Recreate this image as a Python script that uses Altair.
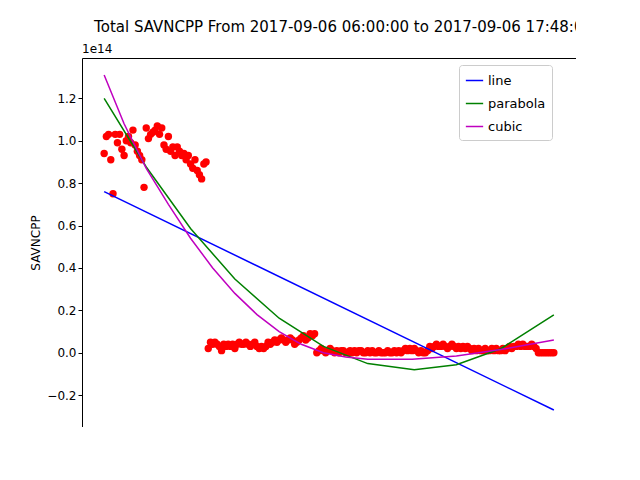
import altair as alt
import pandas as pd

# scatter values (units of 1e14), timepoints 1..204
seg1 = [0.94, 1.02, 1.03, 0.91, 0.75, 1.03, 0.99, 1.03, 0.96, 0.93, 1.00, 1.02, 0.99, 1.05,
        0.98, 0.95, 0.93, 0.91, 0.78, 1.06, 1.01, 1.03, 1.04, 1.05, 1.07, 1.03, 1.06, 0.98,
        0.96, 1.02, 0.95, 0.97, 0.93, 0.97, 0.95, 0.93, 0.94, 0.91, 0.93, 0.89, 0.87, 0.91,
        0.86, 0.84, 0.82, 0.89, 0.90]
seg2 = [0.02, 0.05, 0.04, 0.05, 0.04, 0.03, 0.01, 0.04, 0.03, 0.04, 0.03, 0.04, 0.02, 0.04,
        0.05, 0.04, 0.04, 0.05, 0.04, 0.03, 0.04, 0.05, 0.03, 0.02, 0.03, 0.02, 0.03, 0.05,
        0.04, 0.05, 0.06, 0.05, 0.06, 0.07, 0.06, 0.05, 0.06, 0.07, 0.06, 0.04, 0.05, 0.06,
        0.07, 0.08, 0.06, 0.07, 0.09, 0.08, 0.09]
seg3 = [0.00, 0.01, 0.02, 0.01, 0.00, 0.01, 0.02, 0.01, 0.00, 0.01, 0.00, 0.01, 0.01, 0.00,
        0.00, 0.01, 0.00, 0.01, 0.00, 0.01, 0.01, 0.00, 0.00, 0.01, 0.00, 0.01, 0.00, 0.00,
        0.01, 0.00, 0.00, 0.00, 0.01, 0.00, 0.00, 0.01, 0.00, 0.01, 0.00, 0.01, 0.02, 0.01,
        0.02, 0.01, 0.02, 0.01, 0.00, 0.01, 0.00, 0.00, 0.01]
seg4 = [0.03, 0.02, 0.03, 0.04, 0.03, 0.03, 0.04, 0.03, 0.02, 0.03, 0.04, 0.03, 0.02, 0.03,
        0.02, 0.03, 0.02, 0.03, 0.02, 0.01, 0.02, 0.01, 0.02, 0.01, 0.01, 0.02, 0.01, 0.01,
        0.02, 0.01, 0.02, 0.01, 0.01, 0.02, 0.01, 0.02, 0.03, 0.02, 0.03, 0.03, 0.04, 0.03,
        0.04, 0.03, 0.03, 0.03, 0.04, 0.03, 0.02, 0.00, 0.00]
seg5 = [0.00, 0.00, 0.00, 0.00, 0.00, 0.00]
values = seg1 + seg2 + seg3 + seg4 + seg5
timepoints = list(range(1, len(values) + 1))

# fitted curves
line_t = [1, 204]
line_v = [0.76, -0.27]
para_t = [1, 20, 40, 60, 80, 100, 120, 141, 160, 180, 204]
para_v = [1.20, 0.876, 0.586, 0.348, 0.163, 0.030, -0.051, -0.08, -0.056, 0.019, 0.179]
cubic_t = [1, 10, 20, 30, 40, 50, 60, 70, 80, 90, 100, 110, 120, 140, 160, 180, 204]
cubic_v = [1.31, 1.08, 0.87, 0.70, 0.54, 0.40, 0.28, 0.18, 0.10, 0.04, 0.0, -0.02, -0.03,
           -0.03, -0.015, 0.015, 0.06]

pts = pd.DataFrame({"t": timepoints, "v": values})
fits = pd.concat([
    pd.DataFrame({"t": line_t, "v": line_v, "fit": "line"}),
    pd.DataFrame({"t": para_t, "v": para_v, "fit": "parabola"}),
    pd.DataFrame({"t": cubic_t, "v": cubic_v, "fit": "cubic"}),
])

xs = alt.Scale(domain=[-9, 214], nice=False, zero=False)
ys = alt.Scale(domain=[-0.35, 1.39], nice=False, zero=False)
ax_x = alt.X("t:Q", scale=xs, title="Timepoint",
             axis=alt.Axis(values=[0, 25, 50, 75, 100, 125, 150, 175, 200], grid=False))
ax_y = alt.Y("v:Q", scale=ys, title="SAVNCPP",
             axis=alt.Axis(values=[-0.2, 0, 0.2, 0.4, 0.6, 0.8, 1.0, 1.2], format=".1f", grid=False))

dots = alt.Chart(pts).mark_circle(size=55, color="red", opacity=1).encode(x=ax_x, y=ax_y)

curves = alt.Chart(fits).mark_line(strokeWidth=1.5).encode(
    x=ax_x, y=ax_y, detail="fit:N",
    color=alt.Color("fit:N",
                    scale=alt.Scale(domain=["line", "parabola", "cubic"],
                                    range=["#0000ff", "#008000", "#bf00bf"]),
                    legend=alt.Legend(title=None, orient="none", legendX=377, legendY=7,
                                      symbolType="stroke", symbolStrokeWidth=1.5,
                                      strokeColor="#cccccc", padding=6, cornerRadius=3,
                                      fillColor="white", labelFontSize=13, symbolSize=300,
                                      rowPadding=6)),
    order=alt.Order("t:Q"),
)

offset = alt.Chart(pd.DataFrame({"s": ["1e14"]})).mark_text(
    align="left", baseline="bottom", fontSize=12, dy=-2).encode(
    x=alt.value(0), y=alt.value(0), text="s:N")

chart = alt.layer(dots, curves, offset).properties(
    width=494, height=369,
    autosize=alt.AutoSizeParams(type="none"),
    padding={"left": 74, "top": 50, "right": 0, "bottom": 0},
    title=alt.TitleParams("Total SAVNCPP From 2017-09-06 06:00:00 to 2017-09-06 17:48:00 UT",
                          fontSize=15, fontWeight="normal", anchor="middle", offset=8,
                          dx=27),
).configure(font="DejaVu Sans").configure_view(stroke="black", strokeWidth=1).configure_axis(
    labelFontSize=12, titleFontSize=12, titleFontWeight="normal", domain=False,
    tickColor="black", labelColor="black", titleColor="black", tickSize=4
)

chart.save("out.html", embed_options={"renderer": "svg", "actions": False})
